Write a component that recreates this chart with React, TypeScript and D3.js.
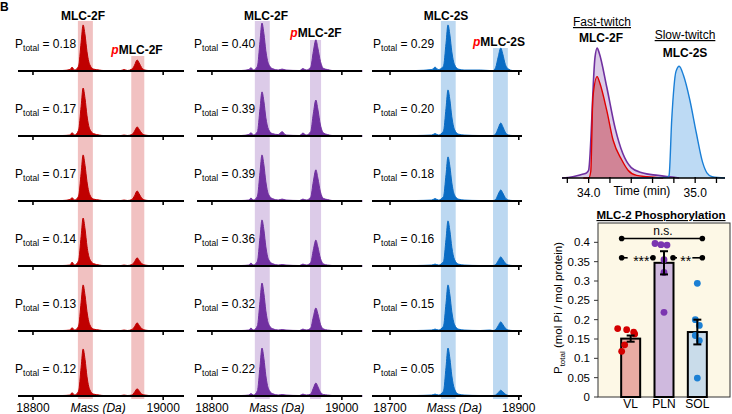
import React from 'react';
import * as d3 from 'd3';

// ---------- Mass spectra data ----------
const MASS_F = [18777, 18845, 18857, 18860, 18864, 18870, 18874, 18877, 18880, 18883, 18887, 18893, 18902, 18908, 18914, 18935, 18940, 18945, 18952, 18956, 18960, 18963, 18967, 18972, 18978, 18985, 19032];
const MASS_S = [18672, 18740, 18765, 18770, 18775, 18783, 18787, 18790, 18793, 18796, 18800, 18806, 18815, 18840, 18855, 18860, 18864, 18868, 18872, 18875, 18879, 18884, 18890, 18905];

const VL_SPECTRA = [
  [0, 1, 3, 8, 2, 10, 60, 96, 75, 40, 14, 4, 2, 1, 1, 1, 3, 1, 4, 12, 23, 17, 7, 2, 1, 1, 0],
  [0, 1, 2, 7, 2, 12, 62, 100, 78, 42, 15, 5, 2, 1, 1, 1, 2, 1, 3, 10, 19, 14, 6, 2, 1, 0, 0],
  [0, 1, 3, 7, 2, 10, 58, 96, 74, 40, 14, 4, 2, 1, 1, 1, 2, 1, 3, 11, 21, 15, 6, 2, 1, 1, 0],
  [0, 1, 2, 8, 2, 11, 62, 100, 77, 41, 15, 5, 2, 1, 1, 1, 2, 1, 3, 9, 17, 12, 5, 2, 1, 0, 0],
  [0, 1, 2, 7, 2, 10, 60, 96, 74, 40, 14, 4, 2, 1, 1, 1, 2, 1, 3, 9, 17, 12, 5, 2, 1, 0, 0],
  [0, 1, 2, 7, 2, 10, 60, 98, 76, 40, 14, 4, 2, 1, 1, 1, 2, 1, 2, 8, 15, 11, 4, 2, 1, 0, 0],
];
const PLN_SPECTRA = [
  [0, 1, 3, 7, 2, 10, 62, 100, 78, 42, 15, 5, 2, 4, 2, 1, 5, 2, 8, 40, 65, 48, 20, 5, 3, 1, 0],
  [0, 1, 3, 7, 2, 9, 57, 92, 72, 38, 14, 5, 3, 9, 2, 1, 6, 2, 9, 46, 75, 56, 23, 6, 3, 1, 0],
  [0, 1, 2, 6, 2, 10, 60, 96, 75, 40, 14, 5, 2, 4, 2, 1, 4, 2, 8, 40, 65, 48, 19, 5, 3, 1, 0],
  [0, 1, 2, 6, 2, 10, 60, 96, 75, 40, 14, 5, 2, 3, 2, 1, 4, 2, 7, 33, 54, 40, 16, 4, 2, 1, 0],
  [0, 1, 2, 6, 2, 11, 62, 100, 78, 42, 15, 5, 2, 3, 2, 1, 4, 2, 6, 29, 48, 36, 14, 4, 2, 1, 0],
  [0, 1, 2, 5, 2, 11, 62, 100, 78, 42, 15, 5, 2, 3, 2, 1, 4, 2, 4, 16, 27, 20, 8, 3, 2, 1, 0],
];
const SOL_SPECTRA = [
  [0, 1, 3, 8, 3, 10, 58, 96, 75, 40, 14, 4, 2, 2, 1, 1, 7, 29, 48, 36, 14, 4, 1, 0],
  [0, 1, 2, 5, 2, 10, 58, 96, 75, 40, 14, 4, 2, 1, 1, 1, 4, 16, 27, 20, 8, 2, 1, 0],
  [0, 1, 2, 5, 2, 9, 55, 92, 72, 38, 13, 4, 2, 1, 1, 1, 3, 14, 23, 17, 7, 2, 1, 0],
  [0, 1, 2, 4, 2, 9, 56, 94, 73, 39, 14, 4, 2, 1, 1, 1, 3, 11, 19, 14, 6, 2, 1, 0],
  [0, 1, 2, 4, 2, 10, 58, 96, 75, 40, 14, 4, 2, 1, 2, 1, 3, 11, 19, 14, 6, 2, 1, 0],
  [0, 1, 2, 4, 2, 10, 60, 100, 78, 42, 15, 4, 2, 1, 1, 1, 2, 7, 12, 9, 4, 1, 1, 0],
];
const VL_P = ['0.18', '0.17', '0.17', '0.14', '0.13', '0.12'];
const PLN_P = ['0.40', '0.39', '0.39', '0.36', '0.32', '0.22'];
const SOL_P = ['0.29', '0.20', '0.18', '0.16', '0.15', '0.05'];
const TICKS_F = [18800, 19000];
const TICKS_S = [18700, 18900];

// ---------- Chromatogram data ----------
const TIME_PLN = [33.75, 33.85, 33.95, 33.98, 34.0, 34.06, 34.08, 34.1, 34.17, 34.25, 34.32, 34.4, 34.5, 34.65, 34.85];
const INT_PLN = [0.0, 0.01, 0.03, 0.04, 0.06, 0.93, 1.0, 0.96, 0.7, 0.38, 0.19, 0.08, 0.04, 0.02, 0.0];
const TIME_VL = [33.95, 34.0, 34.02, 34.04, 34.08, 34.105, 34.17, 34.23, 34.31, 34.37, 34.45, 34.55, 34.7];
const INT_VL = [0, 0, 0.05, 0.62, 0.78, 0.73, 0.52, 0.29, 0.14, 0.06, 0.02, 0.01, 0];
const TIME_SOL = [34.4, 34.74, 34.755, 34.78, 34.82, 34.85, 34.89, 34.95, 35.01, 35.07, 35.11, 35.16, 35.28];
const INT_SOL = [0, 0.005, 0.02, 0.45, 0.82, 0.86, 0.79, 0.6, 0.35, 0.12, 0.04, 0.01, 0];
const TIME_TICKS = [33.8, 34.0, 34.2, 34.4, 34.6, 34.8, 35.0, 35.2];
const TIME_LABELS = [34.0, 35.0];

// ---------- Bar chart data ----------
const GROUPS = ['VL', 'PLN', 'SOL'];
const MEANS = [0.151, 0.347, 0.168];
const SEMS = [0.008, 0.03, 0.032];
const DOTS_VL = [0.177, 0.174, 0.168, 0.163, 0.135, 0.118];
const DOTS_PLN = [0.397, 0.394, 0.393, 0.355, 0.322, 0.219];
const DOTS_SOL = [0.294, 0.2, 0.185, 0.159, 0.146, 0.049];
const Y_TICKS = [0, 0.05, 0.1, 0.15, 0.2, 0.25, 0.3, 0.35, 0.4];

// ---------- layout / style ----------
const FONT = "'Liberation Sans', Arial, Helvetica, sans-serif";
const ROW_BASE = 71;
const ROW_STEP = 65;
const PEAK_PX = 48;

const COLS = [
  { title: 'MLC-2F', pName: 'MLC-2F', mass: MASS_F, spectra: VL_SPECTRA, ptot: VL_P, domain: [18777, 19032], range: [18, 184], ticks: TICKS_F, color: '#c00000', band: '#f1c1c1', mainBand: [18869, 18892], pBand: [18951, 18971], titleX: 83, pLabelX: 137, pLabelY: 54, pBandTop: 56, labelX: 15 },
  { title: 'MLC-2F', pName: 'MLC-2F', mass: MASS_F, spectra: PLN_SPECTRA, ptot: PLN_P, domain: [18777, 19031], range: [197, 362], ticks: TICKS_F, color: '#7030a0', band: '#dccbe8', mainBand: [18866, 18889], pBand: [18951, 18968], titleX: 266, pLabelX: 316, pLabelY: 37, pBandTop: 40, labelX: 194 },
  { title: 'MLC-2S', pName: 'MLC-2S', mass: MASS_S, spectra: SOL_SPECTRA, ptot: SOL_P, domain: [18672, 18905], range: [372, 522], ticks: TICKS_S, color: '#0a6cc4', band: '#bcd8f1', mainBand: [18779, 18802], pBand: [18860, 18883], titleX: 446, pLabelX: 499, pLabelY: 46, pBandTop: 48, labelX: 373 },
];

function SpectraColumn({ c }: { c: any }) {
  const x = d3.scaleLinear().domain(c.domain).range(c.range);
  const bottom = ROW_BASE + ROW_STEP * 5;
  return (
    <g>
      <rect x={x(c.mainBand[0])} y={21} width={x(c.mainBand[1]) - x(c.mainBand[0])} height={bottom + 3 - 21} fill={c.band} />
      <rect x={x(c.pBand[0])} y={c.pBandTop} width={x(c.pBand[1]) - x(c.pBand[0])} height={bottom + 3 - c.pBandTop} fill={c.band} />
      {c.spectra.map((vals: number[], i: number) => {
        const b = ROW_BASE + ROW_STEP * i;
        const y = d3.scaleLinear().domain([0, 100]).range([b, b - PEAK_PX]);
        const pts = c.mass.map((m: number, k: number) => [m, vals[k]]);
        const area = d3.area<any>().x(d => x(d[0])).y0(b).y1(d => y(d[1])).curve(d3.curveMonotoneX);
        const line = d3.line<any>().x(d => x(d[0])).y(d => y(d[1])).curve(d3.curveMonotoneX);
        return (
          <g key={i}>
            <path d={area(pts) || ''} fill={c.color} />
            <path d={line(pts) || ''} fill="none" stroke={c.color} strokeWidth={1} />
            <line x1={c.range[0]} x2={c.range[1]} y1={b} y2={b} stroke="#000" strokeWidth={2} />
            {c.ticks.map((t: number) => (
              <line key={t} x1={x(t)} x2={x(t)} y1={b} y2={b + 4} stroke="#000" strokeWidth={1.6} />
            ))}
            <text x={c.labelX} y={b - 23} fontSize={12} style={{ whiteSpace: 'pre' }}>
              P<tspan fontSize={8.5} dy={3}>total</tspan><tspan dy={-3}>{' = ' + c.ptot[i]}</tspan>
            </text>
          </g>
        );
      })}
      <text x={c.titleX} y={20} fontSize={12} fontWeight="bold" textAnchor="middle">{c.title}</text>
      <text x={c.pLabelX} y={c.pLabelY} fontSize={12} fontWeight="bold" textAnchor="middle">
        <tspan fill="#ff0000" fontStyle="italic">p</tspan>{c.pName}
      </text>
      {c.ticks.map((t: number) => (
        <text key={t} x={x(t)} y={412} fontSize={12} textAnchor="middle">{t}</text>
      ))}
      <text x={(x(c.ticks[0]) + x(c.ticks[1])) / 2} y={412} fontSize={12} fontStyle="italic" textAnchor="middle">Mass (Da)</text>
    </g>
  );
}

function Chromatogram() {
  const x = d3.scaleLinear().domain([33.75, 35.28]).range([562, 725]);
  const y = d3.scaleLinear().domain([0, 1]).range([178, 48]);
  const mk = (t: number[], v: number[]) => t.map((tt, i) => [tt, v[i]]);
  const area = d3.area<any>().x(d => x(d[0])).y0(y(0)).y1(d => y(d[1])).curve(d3.curveMonotoneX);
  const line = d3.line<any>().x(d => x(d[0])).y(d => y(d[1])).curve(d3.curveMonotoneX);
  const pln = mk(TIME_PLN, INT_PLN);
  const vl = mk(TIME_VL, INT_VL);
  const sol = mk(TIME_SOL, INT_SOL);
  return (
    <g>
      <path d={area(pln) || ''} fill="#7030a0" fillOpacity={0.25} />
      <path d={area(vl) || ''} fill="#c00000" fillOpacity={0.35} />
      <path d={area(sol) || ''} fill="#0a78d8" fillOpacity={0.27} />
      <path d={line(pln) || ''} fill="none" stroke="#7030a0" strokeWidth={1.6} />
      <path d={line(vl) || ''} fill="none" stroke="#e00000" strokeWidth={1.4} />
      <path d={line(sol) || ''} fill="none" stroke="#1a7fd6" strokeWidth={1.4} />
      <line x1={562} x2={725} y1={178} y2={178} stroke="#000" strokeWidth={1.5} />
      {TIME_TICKS.map(t => (
        <line key={t} x1={x(t)} x2={x(t)} y1={177} y2={183} stroke="#000" strokeWidth={1.3} />
      ))}
      {TIME_LABELS.map(t => (
        <text key={t} x={x(t)} y={197} fontSize={12} textAnchor="middle">{t.toFixed(1)}</text>
      ))}
      <text x={x(34.5)} y={195} fontSize={12} textAnchor="middle">Time (min)</text>
      <text x={602} y={26} fontSize={12} textAnchor="middle" style={{ textDecoration: 'underline' }}>Fast-twitch</text>
      <text x={601} y={42} fontSize={12} fontWeight="bold" textAnchor="middle">MLC-2F</text>
      <text x={685} y={39} fontSize={12} textAnchor="middle" style={{ textDecoration: 'underline' }}>Slow-twitch</text>
      <text x={685} y={57} fontSize={12} fontWeight="bold" textAnchor="middle">MLC-2S</text>
    </g>
  );
}

function BarChart() {
  const y = d3.scaleLinear().domain([0, 0.45]).range([397, 223]);
  const x = d3.scalePoint<string>().domain(GROUPS).range([598, 730]).padding(0.98);
  const fills = ['#e9aba3', '#cfb9de', '#c9dcea'];
  const dotColors = ['#d40000', '#7a35b0', '#1c80d4'];
  const dots = [DOTS_VL, DOTS_PLN, DOTS_SOL];
  const jitter = [[-13, -4, 3, 4, -6, -9], [-9, -3, 3, 0, 0, 0], [0, -2, 2, -2, 2, 0]];
  const bw = 19;
  const y41 = y(0.41);
  const y36 = y(0.36);
  const xv = x('VL')!, xp = x('PLN')!, xs = x('SOL')!;
  return (
    <g>
      <text x={661} y={219} fontSize={11.5} fontWeight="bold" textAnchor="middle" style={{ textDecoration: 'underline' }}>MLC-2 Phosphorylation</text>
      <rect x={598} y={223} width={132} height={174} fill="#fdf8e6" stroke="#333" strokeWidth={1} />
      {Y_TICKS.map(t => (
        <g key={t}>
          <line x1={594} x2={598} y1={y(t)} y2={y(t)} stroke="#333" strokeWidth={1} />
          <text x={590} y={y(t) + 4} fontSize={11.5} textAnchor="end">{String(+t.toFixed(2))}</text>
        </g>
      ))}
      <text transform="translate(562,308) rotate(-90)" fontSize={11.5} textAnchor="middle" style={{ whiteSpace: 'pre' }}>
        P<tspan fontSize={8} dy={3}>total</tspan><tspan dy={-3}> (mol Pi / mol protein)</tspan>
      </text>
      {GROUPS.map((g, i) => (
        <g key={g}>
          <rect x={x(g)! - bw / 2} y={y(MEANS[i])} width={bw} height={y(0) - y(MEANS[i])} fill={fills[i]} stroke="#000" strokeWidth={2} />
          <text x={x(g)!} y={408} fontSize={12} textAnchor="middle">{g}</text>
        </g>
      ))}
      {dots.map((arr, gi) => arr.map((v, k) => (
        <circle key={gi + '-' + k} cx={x(GROUPS[gi])! + jitter[gi][k]} cy={y(v)} r={3.4} fill={dotColors[gi]} />
      )))}
      {GROUPS.map((g, i) => {
        const cx = x(g)!;
        const y1 = y(MEANS[i] + SEMS[i]);
        const y0 = y(MEANS[i] - SEMS[i]);
        return (
          <g key={'e' + g} stroke="#000" strokeWidth={2}>
            <line x1={cx} x2={cx} y1={y1} y2={y0} />
            <line x1={cx - 4} x2={cx + 4} y1={y1} y2={y1} />
            <line x1={cx - 4} x2={cx + 4} y1={y0} y2={y0} />
          </g>
        );
      })}
      {/* significance */}
      <g stroke="#000" strokeWidth={1.6}>
        <line x1={xv - 9} x2={xs + 5} y1={y41} y2={y41} />
        <line x1={xv - 9} x2={xv - 3} y1={y36} y2={y36} />
        <line x1={xp - 14} x2={xp - 11} y1={y36} y2={y36} />
        <line x1={xp + 9} x2={xp + 13} y1={y36} y2={y36} />
        <line x1={xs - 5} x2={xs + 5} y1={y36} y2={y36} />
      </g>
      {[xv - 9, xs + 5].map((cx, k) => <circle key={'a' + k} cx={cx} cy={y41} r={2.8} fill="#000" />)}
      {[xv - 9, xp - 11, xp + 9, xs + 5].map((cx, k) => <circle key={'b' + k} cx={cx} cy={y36} r={2.8} fill="#000" />)}
      <text x={663} y={y41 - 3} fontSize={12} textAnchor="middle">n.s.</text>
      <text x={(xv + xp) / 2 - 6} y={y36 + 8} fontSize={14} textAnchor="middle">***</text>
      <text x={(xp + xs) / 2 + 5} y={y36 + 8} fontSize={14} textAnchor="middle">**</text>
    </g>
  );
}

export default function App() {
  return (
    <svg width={732} height={414} style={{ position: 'absolute', left: 0, top: 0, background: '#fff' }} fontFamily={FONT}>
      <rect x={0} y={0} width={732} height={414} fill="#fff" />
      <text x={0} y={11} fontSize={12} fontWeight="bold">B</text>
      {COLS.map((c, i) => <SpectraColumn key={i} c={c} />)}
      <Chromatogram />
      <BarChart />
    </svg>
  );
}
